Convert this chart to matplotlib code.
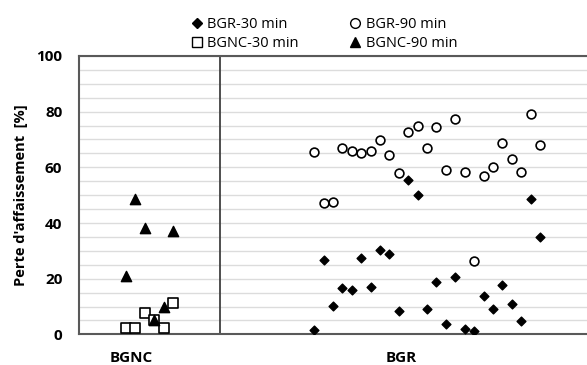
import numpy as np
import matplotlib.pyplot as plt
from matplotlib.lines import Line2D

# BGNC (6 samples) and BGR (25 samples)
bgnc_x = np.arange(5, 11)
bgnc_30 = [2.3, 2.3, 7.5, 5.1, 2.3, 11.2]
bgnc_90 = [21.0, 48.6, 38.1, 5.0, 9.7, 37.1]

bgr_x = np.arange(25, 50)
bgr_30 = [1.4, 26.6, 10.1, 16.8, 15.9, 27.5, 17.1, 30.4, 28.7, 8.3,
          55.4, 50.2, 9.1, 18.7, 3.8, 20.5, 1.9, 1.3, 13.6, 9.0,
          17.7, 10.9, 4.9, 48.6, 34.9]
bgr_90 = [65.5, 47.3, 47.4, 66.8, 65.9, 65.0, 65.9, 69.7, 64.3, 57.8,
          72.8, 75.0, 66.9, 74.5, 59.0, 77.4, 58.4, 26.2, 56.9, 60.0,
          68.8, 63.1, 58.4, 79.2, 68.1]

group_labels = ['BGNC', 'BGR']
group_pos = [5.6, 34.3]

plt.rcParams['font.family'] = ['Open Sans', 'DejaVu Sans']

fig = plt.figure(figsize=(5.87, 3.65), dpi=100)
ax = fig.add_axes([0.1346, 0.084, 0.8654, 0.7626])

ax.set_xlim(0, 54)
ax.set_ylim(0, 100)

ax.set_yticks(np.arange(0, 101, 5), minor=True)
ax.set_yticks(np.arange(0, 101, 20))
ax.grid(axis='y', which='both', color='#dcdcdc', linewidth=1.0)
ax.set_axisbelow(True)

ax.axvline(15, color='#404040', linewidth=1.3)

ax.scatter(bgr_x, bgr_30, marker='D', s=20, color='black', zorder=3)
ax.scatter(bgr_x, bgr_90, marker='o', s=40, facecolor='white',
           edgecolor='black', linewidth=1.2, zorder=3)
ax.scatter(bgnc_x, bgnc_30, marker='s', s=42, facecolor='white',
           edgecolor='black', linewidth=1.2, zorder=3)
ax.scatter(bgnc_x, bgnc_90, marker='^', s=55, color='black', zorder=4)

for s in ['left', 'top', 'bottom']:
    ax.spines[s].set_color('#595959')
    ax.spines[s].set_linewidth(1.5)
ax.spines['right'].set_visible(False)

ax.set_xticks(group_pos)
ax.set_xticklabels(group_labels, fontweight='bold', fontsize=11)
ax.tick_params(axis='x', length=0, pad=12)
ax.tick_params(axis='y', which='both', length=0, labelsize=11, pad=12)
for lab in ax.get_yticklabels():
    lab.set_fontweight('bold')
ax.set_ylabel("Perte d'affaissement  [%]", fontweight='bold', fontsize=10.5,
              labelpad=6)

handles = [
    Line2D([], [], marker='D', ls='', color='black', markersize=5),
    Line2D([], [], marker='s', ls='', markerfacecolor='white',
           markeredgecolor='black', markersize=7),
    Line2D([], [], marker='o', ls='', markerfacecolor='white',
           markeredgecolor='black', markersize=7),
    Line2D([], [], marker='^', ls='', color='black', markersize=7),
]
labels = ['BGR-30 min', 'BGNC-30 min', 'BGR-90 min', 'BGNC-90 min']
fig.legend(handles, labels, ncol=2, loc='upper left',
           bbox_to_anchor=(0.303, 0.99), frameon=False, fontsize=10.5,
           handlelength=0.8, handletextpad=0.3, columnspacing=3.5,
           labelspacing=0.3)

fig.savefig('out.png', dpi=100)
